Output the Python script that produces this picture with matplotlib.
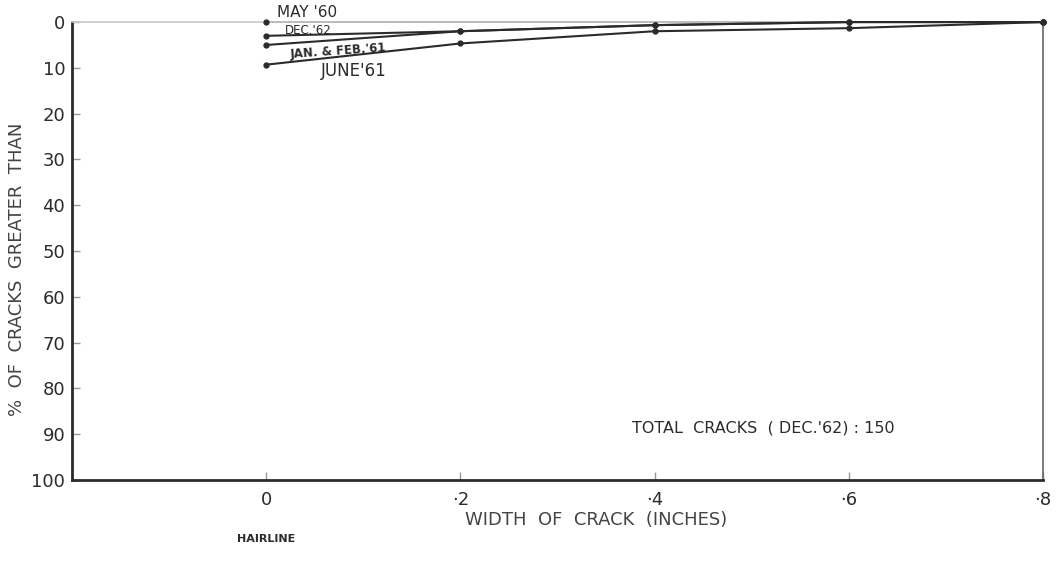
import matplotlib.pyplot as plt

# crack width classes (inches) and % of cracks wider than each class
widths = [0.0, 0.2, 0.4, 0.6, 0.8]
may_60 = [0.0, 0.0, 0.0, 0.0, 0.0]
dec_62 = [3.0, 2.0, 0.67, 0.0, 0.0]
jan_feb_61 = [5.0, 2.0, 0.67, 0.0, 0.0]
june_61 = [9.3, 4.67, 2.0, 1.33, 0.0]

x_ticks = [0.0, 0.2, 0.4, 0.6, 0.8]
x_tick_labels = ["0", "·2", "·4", "·6", "·8"]
y_ticks = list(range(0, 101, 10))

INK = "#2b2b2b"

fig = plt.figure(figsize=(10.6, 5.66), dpi=100)
ax = fig.add_axes([0.068, 0.152, 0.916, 0.809])

ax.plot(widths, may_60, color="#b8b8b8", lw=1.2, marker="o", ms=3.5,
        markevery=[0, 4], mfc=INK, mec=INK, clip_on=False, zorder=3)
ax.plot(widths, dec_62, color=INK, lw=1.5, marker="o", ms=3.5, clip_on=False, zorder=4)
ax.plot(widths, jan_feb_61, color=INK, lw=1.5, marker="o", ms=3.5, clip_on=False, zorder=4)
ax.plot(widths, june_61, color=INK, lw=1.5, marker="o", ms=3.5, clip_on=False, zorder=4)

ax.set_xlim(-0.2, 0.8)
ax.set_ylim(100, 0)

for side in ["left", "bottom"]:
    ax.spines[side].set_linewidth(2.0)
    ax.spines[side].set_color(INK)
ax.spines["right"].set_linewidth(1.2)
ax.spines["right"].set_color("#666666")
ax.spines["top"].set_linewidth(1.2)
ax.spines["top"].set_color("#c8c8c8")

ax.set_xticks(x_ticks)
ax.set_xticklabels(x_tick_labels)
ax.set_yticks(y_ticks)
ax.tick_params(axis="both", direction="in", length=6, width=1, color="#999999",
               labelcolor=INK, labelsize=13)
ax.tick_params(axis="x", pad=8)
ax.tick_params(axis="y", pad=5)

ax.set_xlabel("WIDTH  OF  CRACK  (INCHES)", fontsize=13, color="#444444")
ax.xaxis.set_label_coords(0.54, -0.067)
ax.set_ylabel("%  OF  CRACKS  GREATER  THAN", fontsize=13, color="#444444")
ax.yaxis.set_label_coords(-0.047, 0.46)

ax.text(0.0, 112.9, "HAIRLINE", fontsize=8, fontweight="bold", color=INK,
        ha="center", va="center", clip_on=False)

# series names written beside each curve
ax.text(0.011, -2.0, "MAY '60", fontsize=11, color=INK, ha="left", va="center",
        clip_on=False)
ax.text(0.019, 1.8, "DEC.'62", fontsize=8.5, color=INK, ha="left", va="center")
ax.text(0.024, 6.4, "JAN. & FEB.'61", fontsize=8.5, color=INK, ha="left",
        va="center", rotation=4, fontweight="bold")
ax.text(0.056, 10.6, "JUNE'61", fontsize=12, color=INK, ha="left", va="center")

ax.text(0.377, 88.6, "TOTAL  CRACKS  ( DEC.'62) : 150", fontsize=11.5,
        color=INK, ha="left", va="center")

fig.savefig("out.png", dpi=100)
